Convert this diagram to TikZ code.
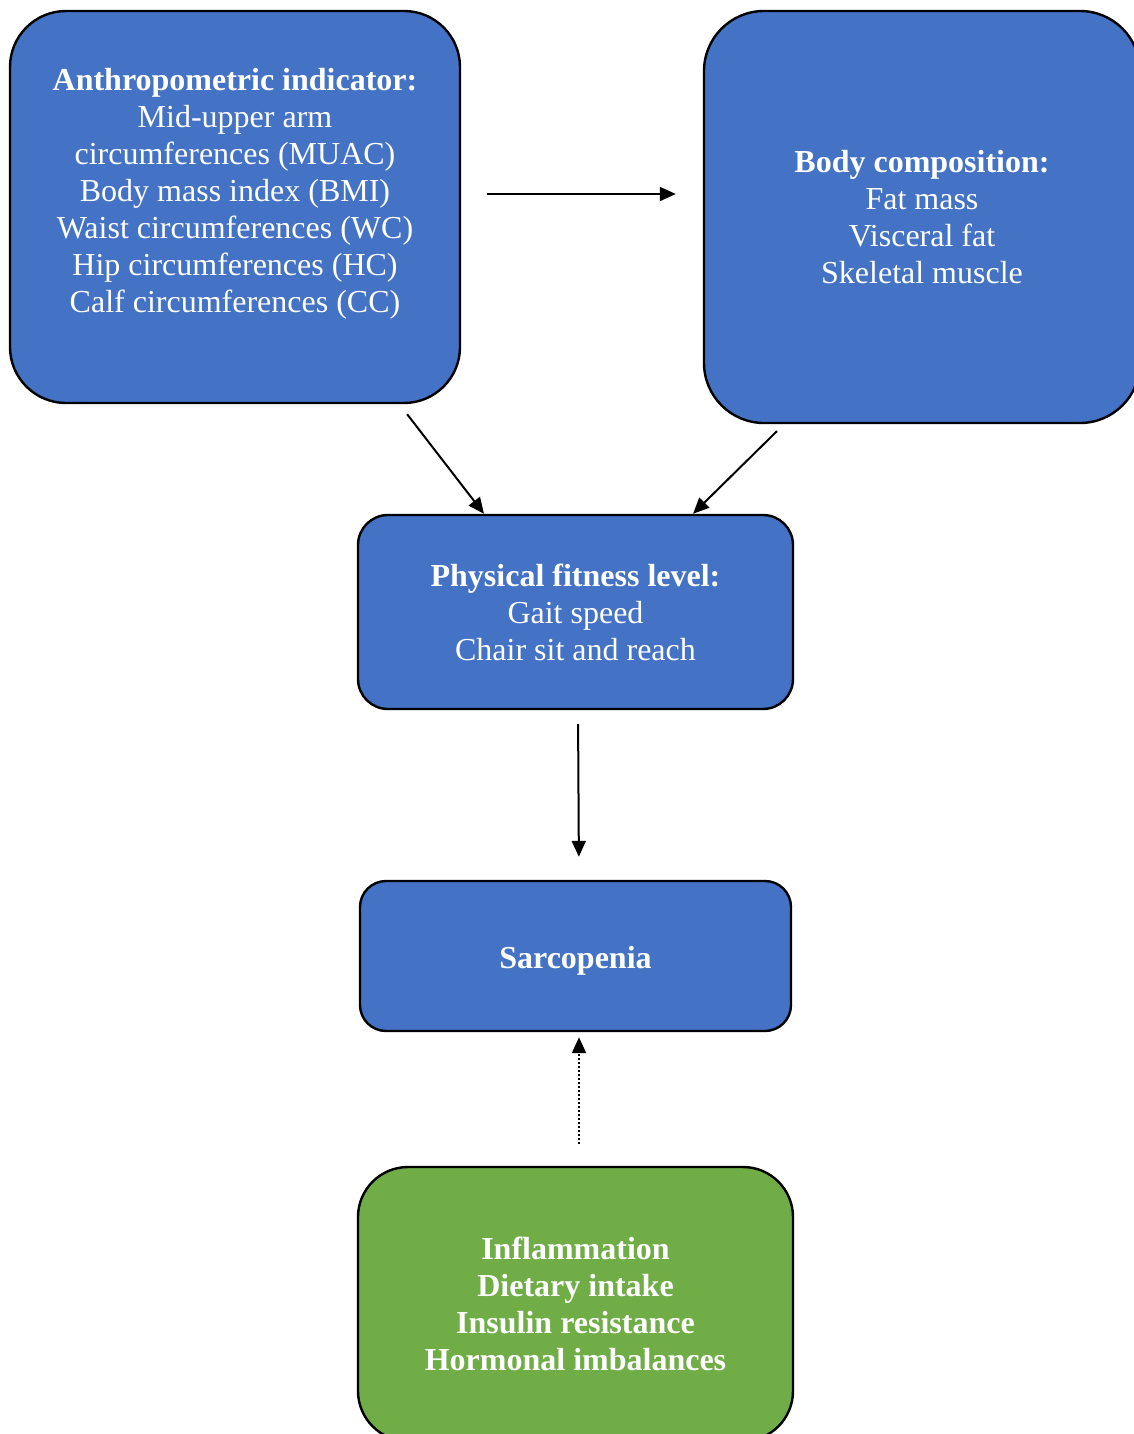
\documentclass[tikz,border=0pt]{standalone}
\usepackage{fontspec}
\setmainfont{Liberation Serif}
\usepackage{xcolor}
\usepackage{tikz}
\usetikzlibrary{positioning, arrows.meta}

\definecolor{boxblue}{HTML}{4472C4}
\definecolor{boxgreen}{HTML}{70AD47}

\begin{document}
\begin{tikzpicture}[
        x=0.5pt, y=-0.5pt,
        box/.style={rectangle, draw, line width=1.2pt, fill=boxblue, text=white, align=center,
            font=\fontsize{16}{18.5}\selectfont, inner sep=0pt},
        arr/.style={-{Triangle[length=8pt, width=7pt]}, line width=1pt},
    ]
        \useasboundingbox (0,0) rectangle (1134,1434);

        % Boxes
        \node[box, rounded corners=28pt, minimum width=225pt, minimum height=196pt, text depth=17pt] (anthro) at (235,207)
            {\textbf{Anthropometric indicator:}\\Mid-upper arm\\circumferences (MUAC)\\Body mass index (BMI)\\Waist circumferences (WC)\\Hip circumferences (HC)\\Calf circumferences (CC)};
        \node[box, rounded corners=30pt, minimum width=218pt, minimum height=206pt] (body) at (922,217)
            {\textbf{Body composition:}\\Fat mass\\Visceral fat\\Skeletal muscle};
        \node[box, rounded corners=15pt, minimum width=217.5pt, minimum height=97pt] (phys) at (575.5,612)
            {\textbf{Physical fitness level:}\\Gait speed\\Chair sit and reach};
        \node[box, rounded corners=13pt, minimum width=215.5pt, minimum height=75pt, text height=16pt, text depth=3.5pt] (sarc) at (575.5,956)
            {\textbf{Sarcopenia}};
        \node[box, fill=boxgreen, rounded corners=25pt, minimum width=217.5pt, minimum height=137pt] (factors) at (575.5,1304)
            {\textbf{Inflammation}\\\textbf{Dietary intake}\\\textbf{Insulin resistance}\\\textbf{Hormonal imbalances}};

        % Arrows
        \draw[arr, shorten <=13pt, shorten >=13.5pt] ([yshift=6.5pt]anthro.east) -- ([yshift=11.5pt]body.west);
        \draw[arr, shorten <=6.3pt] ([xshift=82.2pt]anthro.south) -- ([xshift=-45.75pt]phys.north);
        \draw[arr, shorten <=4.9pt] ([xshift=-69pt]body.south) -- ([xshift=58.75pt]phys.north);
        \draw[arr, shorten <=7pt, shorten >=11.5pt] ([xshift=1.25pt]phys.south) -- ([xshift=1.75pt]sarc.north);
        \draw[arr, dash pattern=on 1pt off 1pt, shorten <=11pt, shorten >=2.5pt] ([xshift=1.75pt]factors.north) -- ([xshift=1.75pt]sarc.south);

    \end{tikzpicture}
\end{document}
